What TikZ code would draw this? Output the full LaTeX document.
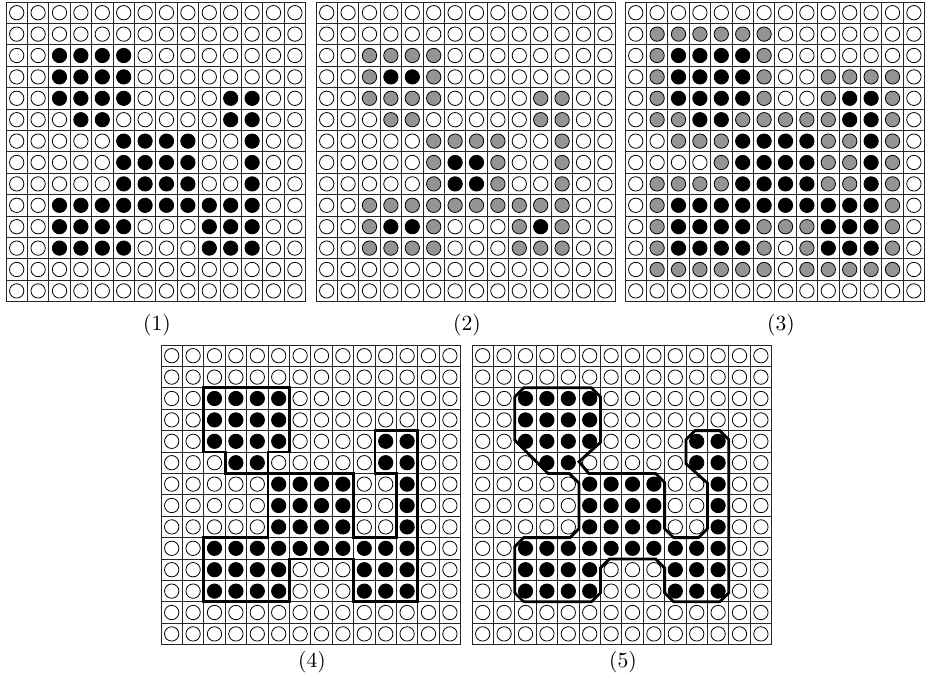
\documentclass[tikz,border=0pt]{standalone}
\colorlet{c0}{white}
\colorlet{c1}{black!42}
\colorlet{c2}{black}
\tikzset{
  cellline/.style={line width=0.45pt, draw=black!85},
  dot/.style={line width=0.4pt, draw=black},
  contour/.style={line width=1.4pt, line join=miter},
  lab/.style={font=\fontsize{10.8}{13}\selectfont, inner sep=0pt},
}
\newcommand\gridrows[1]{%
  \foreach \ii in {0,...,14} {\draw[cellline] (\ii,0) -- (\ii,14); \draw[cellline] (0,\ii) -- (14,\ii);}
  \foreach \rowdata [count=\ri from 0] in #1 {
    \foreach \vv [count=\ci from 0] in \rowdata {
      \draw[dot, fill=c\vv] (\ci+0.5,\ri+0.5) circle[radius=0.335];
    }
  }
}
\def\dataA{%
{0,0,0,0,0,0,0,0,0,0,0,0,0,0},
{0,0,0,0,0,0,0,0,0,0,0,0,0,0},
{0,0,2,2,2,2,0,0,0,0,0,0,0,0},
{0,0,2,2,2,2,0,0,0,0,0,0,0,0},
{0,0,2,2,2,2,0,0,0,0,2,2,0,0},
{0,0,0,2,2,0,0,0,0,0,2,2,0,0},
{0,0,0,0,0,2,2,2,2,0,0,2,0,0},
{0,0,0,0,0,2,2,2,2,0,0,2,0,0},
{0,0,0,0,0,2,2,2,2,0,0,2,0,0},
{0,0,2,2,2,2,2,2,2,2,2,2,0,0},
{0,0,2,2,2,2,0,0,0,2,2,2,0,0},
{0,0,2,2,2,2,0,0,0,2,2,2,0,0},
{0,0,0,0,0,0,0,0,0,0,0,0,0,0},
{0,0,0,0,0,0,0,0,0,0,0,0,0,0}}
\def\dataB{%
{0,0,0,0,0,0,0,0,0,0,0,0,0,0},
{0,0,0,0,0,0,0,0,0,0,0,0,0,0},
{0,0,1,1,1,1,0,0,0,0,0,0,0,0},
{0,0,1,2,2,1,0,0,0,0,0,0,0,0},
{0,0,1,1,1,1,0,0,0,0,1,1,0,0},
{0,0,0,1,1,0,0,0,0,0,1,1,0,0},
{0,0,0,0,0,1,1,1,1,0,0,1,0,0},
{0,0,0,0,0,1,2,2,1,0,0,1,0,0},
{0,0,0,0,0,1,2,2,1,0,0,1,0,0},
{0,0,1,1,1,1,1,1,1,1,1,1,0,0},
{0,0,1,2,2,1,0,0,0,1,2,1,0,0},
{0,0,1,1,1,1,0,0,0,1,1,1,0,0},
{0,0,0,0,0,0,0,0,0,0,0,0,0,0},
{0,0,0,0,0,0,0,0,0,0,0,0,0,0}}
\def\dataC{%
{0,0,0,0,0,0,0,0,0,0,0,0,0,0},
{0,1,1,1,1,1,1,0,0,0,0,0,0,0},
{0,1,2,2,2,2,1,0,0,0,0,0,0,0},
{0,1,2,2,2,2,1,0,0,1,1,1,1,0},
{0,1,2,2,2,2,1,0,0,1,2,2,1,0},
{0,1,1,2,2,1,1,1,1,1,2,2,1,0},
{0,0,1,1,1,2,2,2,2,1,1,2,1,0},
{0,0,0,0,1,2,2,2,2,1,1,2,1,0},
{0,1,1,1,1,2,2,2,2,1,1,2,1,0},
{0,1,2,2,2,2,2,2,2,2,2,2,1,0},
{0,1,2,2,2,2,1,1,1,2,2,2,1,0},
{0,1,2,2,2,2,1,0,1,2,2,2,1,0},
{0,1,1,1,1,1,1,0,1,1,1,1,1,0},
{0,0,0,0,0,0,0,0,0,0,0,0,0,0}}
\begin{document}
\begin{tikzpicture}[x=0.5pt, y=-0.5pt]
\useasboundingbox (0,0) rectangle (925,687);
% grid 1
\begin{scope}[shift={(3pt,-1pt)}, x=10.7pt, y=-10.7pt]
  \gridrows{\dataA}
\end{scope}
% grid 2
\begin{scope}[shift={(158pt,-1pt)}, x=10.7pt, y=-10.7pt]
  \gridrows{\dataB}
\end{scope}
% grid 3
\begin{scope}[shift={(312.5pt,-1pt)}, x=10.7pt, y=-10.7pt]
  \gridrows{\dataC}
\end{scope}
% grid 4
\begin{scope}[shift={(80.5pt,-172.5pt)}, x=10.7pt, y=-10.7pt]
  \gridrows{\dataA}
  \draw[contour] (2,2) -- (6,2) -- (6,5) -- (5,5) -- (5,6) -- (3,6) -- (3,5) -- (2,5) -- cycle;
  \draw[contour] (5,6) -- (9,6) -- (9,9) -- (11,9) -- (11,6) -- (10,6) -- (10,4) -- (12,4) -- (12,12) -- (9,12) -- (9,10) -- (6,10) -- (6,12) -- (2,12) -- (2,9) -- (5,9) -- cycle;
\end{scope}
% grid 5
\begin{scope}[shift={(236pt,-172.5pt)}, x=10.7pt, y=-10.7pt]
  \gridrows{\dataA}
  \draw[contour] (2,2.42) -- (2.42,2) -- (5.58,2) -- (6,2.42) -- (6,4.55) -- (5,5.45) -- (5.45,6) -- (8.58,6) -- (9,6.42) -- (9,8.58) -- (9.42,9) -- (10.58,9) -- (11,8.58) -- (11,6.45) -- (10,5.55) -- (10,4.42) -- (10.42,4) -- (11.58,4) -- (12,4.42) -- (12,11.58) -- (11.58,12) -- (9.42,12) -- (9,11.58) -- (9,10.42) -- (8.58,10) -- (6.42,10) -- (6,10.42) -- (6,11.58) -- (5.58,12) -- (2.42,12) -- (2,11.58) -- (2,9.42) -- (2.42,9) -- (4.58,9) -- (5,8.58) -- (5,6.45) -- (4.55,6) -- (3.55,6) -- (2,4.45) -- cycle;
\end{scope}
\node[lab] (l1) at (157,325) {(1)};
\node[lab] (l2) at (467,325) {(2)};
\node[lab] (l3) at (781,325) {(3)};
\node[lab] (l4) at (312,662) {(4)};
\node[lab] (l5) at (623,662) {(5)};
\end{tikzpicture}
\end{document}
